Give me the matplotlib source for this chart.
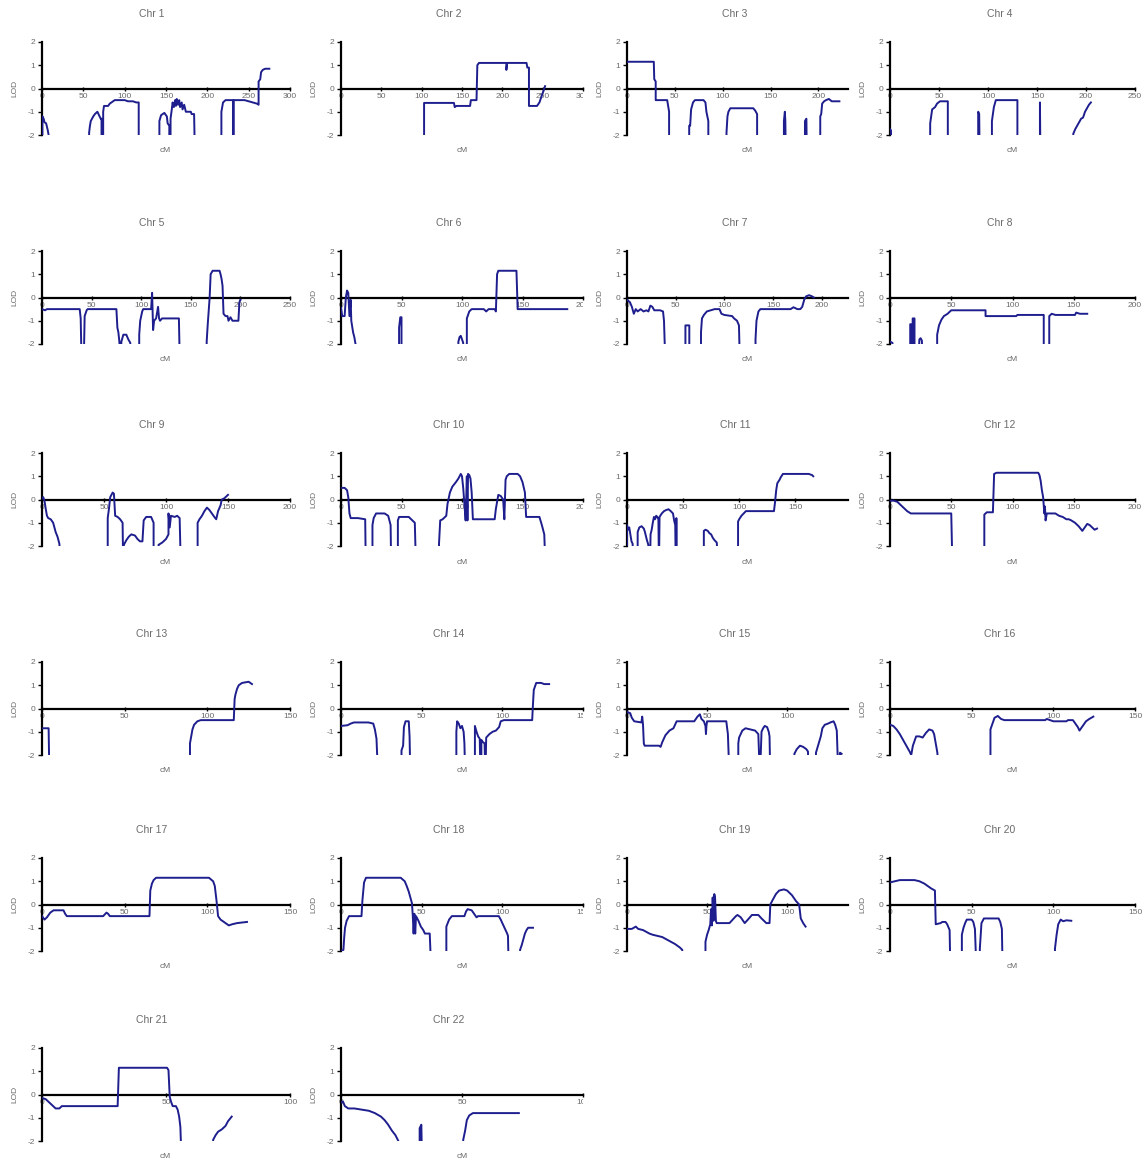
import numpy as np
import matplotlib
matplotlib.use("Agg")
import matplotlib.pyplot as plt
from matplotlib.transforms import Bbox, TransformedBbox

# LOD score profiles per chromosome, (cM, LOD); -3 means "below the -2 floor"
chr1_pts = [(0.5, -3), (0.5, -1.2), (2, -1.3), (3, -1.45), (5, -1.5), (6, -1.65), (7, -1.8), (8, -2.0), (9, -3),
            (57, -3), (57, -1.9), (58, -1.6), (59, -1.4), (62, -1.2), (64, -1.1), (67, -1.0), (69, -1.15), (71, -1.3),
            (72, -1.3), (72, -3), (74, -3), (74, -1.0), (75, -0.75), (80, -0.75), (82, -0.65), (86, -0.55), (88, -0.5),
            (100, -0.5), (104, -0.55), (110, -0.55), (114, -0.6), (117, -0.6), (117, -3),
            (142, -3), (142, -1.4), (144, -1.15), (148, -1.05), (151, -1.2), (152, -1.5), (154, -1.6), (154, -3),
            (155.5, -3), (155.5, -1.3), (157, -0.9), (158, -0.6), (159.5, -0.8), (161, -0.5), (162, -0.75), (163, -0.45),
            (164.5, -0.7), (166, -0.5), (167, -0.8), (169, -0.6), (170, -0.9), (172, -0.7), (174, -1.0), (180, -1.0),
            (181, -1.1), (184, -1.1), (185, -3),
            (217, -3), (217, -1.0), (218, -0.8), (219, -0.6), (222, -0.5), (231, -0.5), (231, -3), (232, -3), (232, -0.5),
            (245, -0.5), (250, -0.55), (255, -0.6), (260, -0.65), (262, -0.7), (262, 0.3), (264, 0.4), (265, 0.7),
            (267, 0.8), (270, 0.85), (275, 0.85)]
chr2_pts = [(103, -3), (103, -0.62), (140, -0.62), (141, -0.8), (143, -0.75), (160, -0.75), (161, -0.5), (168, -0.5),
            (169, 1.0), (171, 1.1), (205, 1.1), (205, 0.8), (206, 1.1), (230, 1.1), (231, 0.9), (233, 0.9), (233, -0.75),
            (243, -0.75), (246, -0.6), (249, -0.3), (251, -0.1), (253, 0.1)]
chr3_pts = [(0, 1.15), (28, 1.15), (28.5, 0.4), (30, 0.3), (30, -0.5), (42, -0.5), (44, -1.0), (44, -3),
            (65, -3), (65, -1.6), (66, -1.6), (67, -0.9), (69, -0.6), (71, -0.5), (80, -0.5), (82, -0.6), (83, -1.0),
            (85, -1.4), (85, -3),
            (104, -3), (104, -1.9), (105, -1.2), (106, -1.0), (108, -0.85), (132, -0.85), (134, -0.95), (136, -1.1), (136, -3),
            (164, -3), (164, -1.4), (165, -1.0), (165.5, -1.4), (166, -3),
            (186, -3), (186, -1.4), (187.5, -1.3), (188, -3),
            (202, -3), (202, -1.2), (203, -1.1), (204, -0.65), (206, -0.55), (208, -0.5), (211, -0.45), (214, -0.55),
            (222, -0.55)]
chr4_pts = [(0, -1.75), (1, -1.8), (1.5, -3),
            (41, -3), (41, -1.5), (42, -1.2), (43, -0.9), (46, -0.8), (48, -0.65), (51, -0.55), (59, -0.55), (59, -3),
            (90, -3), (90, -1.0), (91, -1.1), (91.5, -3),
            (104, -3), (104, -1.4), (105, -1.1), (106, -0.8), (108, -0.5), (130, -0.5), (130, -3),
            (153, -3), (153, -0.6), (153.5, -3),
            (187, -3), (187, -1.95), (189, -1.75), (191, -1.6), (193, -1.45), (195, -1.3), (197, -1.25), (199, -1.0),
            (201, -0.85), (203, -0.7), (205, -0.6)]
chr5_pts = [(0, -0.5), (3, -0.55), (5, -0.5), (38, -0.5), (39, -0.9), (40, -3), (42, -3), (43, -0.8), (45, -0.55),
            (46, -0.5), (75, -0.5), (76, -1.3), (77, -1.5), (78, -1.9), (79, -3), (80, -1.9), (81, -1.75), (82, -1.6),
            (85, -1.6), (87, -1.8), (89, -1.95), (90, -3),
            (98, -3), (98, -1.6), (99, -1.0), (101, -0.6), (102, -0.5), (110, -0.5), (111, 0.2), (112, -1.4), (113, -1.0),
            (115, -0.9), (117, -0.4), (118, -0.9), (119, -1.0), (121, -0.9), (138, -0.9), (139, -3),
            (166, -3), (166, -1.9), (167, -1.2), (168, -0.6), (169, 0.0), (170, 1.0), (172, 1.15), (179, 1.15), (180, 1.0),
            (181, 0.8), (182, 0.5), (183, -0.7), (185, -0.8), (187, -0.8), (188, -1.0), (190, -0.85), (192, -1.0),
            (198, -1.0), (199, -0.2), (200, -0.1)]
chr6_pts = [(0, -0.45), (1, -0.8), (3, -0.8), (4, 0.0), (5, 0.3), (6, 0.2), (7, -0.8), (8, -0.1), (8.5, -1.0),
            (10, -1.5), (11, -1.7), (12, -2.0), (12.5, -3),
            (48, -3), (48, -1.3), (49, -0.85), (50, -0.85), (50, -3),
            (97, -3), (97, -1.9), (98, -1.7), (99, -1.65), (100, -1.8), (101, -1.95), (101, -3), (104, -3), (104, -0.9),
            (106, -0.6), (108, -0.5), (118, -0.5), (120, -0.6), (122, -0.5), (127, -0.5), (128, -0.6), (129, 1.0),
            (130, 1.15), (145, 1.15), (146, -0.5), (187, -0.5)]
chr7_pts = [(0, -0.1), (3, -0.2), (5, -0.4), (7, -0.7), (9, -0.5), (11, -0.6), (14, -0.5), (17, -0.6), (20, -0.55),
            (22, -0.6), (24, -0.35), (26, -0.4), (28, -0.55), (34, -0.55), (37, -0.6), (38, -1.0), (39.5, -3),
            (60, -3), (60, -1.2), (64, -1.2), (64, -3),
            (76, -3), (76, -1.5), (77, -0.9), (79, -0.75), (82, -0.6), (86, -0.55), (90, -0.5), (95, -0.5), (97, -0.7),
            (100, -0.75), (108, -0.8), (110, -0.9), (113, -1.0), (115, -1.2), (116, -3),
            (132, -3), (132, -1.8), (133, -1.0), (135, -0.6), (137, -0.5), (168, -0.5), (171, -0.42), (175, -0.5),
            (178, -0.5), (180, -0.4), (182, -0.1), (184, 0.05), (187, 0.1), (190, 0.05), (192, 0.0)]
chr8_pts = [(0, -1.9), (2, -1.95), (2.5, -3),
            (16.5, -3), (16.5, -1.15), (17.2, -1.15), (17.2, -3), (18.5, -3), (18.5, -0.9), (20, -0.9), (20, -3),
            (23, -3), (24, -1.8), (25, -1.75), (26, -1.85), (27, -3),
            (38.5, -3), (38.5, -1.6), (40, -1.2), (42, -0.95), (44, -0.8), (47, -0.7), (50, -0.55), (78, -0.55),
            (78, -0.8), (103, -0.8), (104, -0.75), (125.5, -0.75), (125.5, -3),
            (130, -3), (130, -0.8), (132, -0.7), (135, -0.75), (151, -0.75), (152, -0.65), (155, -0.7), (161, -0.7)]
chr9_pts = [(0, 0.05), (1, 0.1), (2, -0.05), (3, -0.4), (4, -0.7), (5, -0.8), (7, -0.85), (9, -1.0), (10, -1.2),
            (11, -1.4), (12.5, -1.6), (14, -1.9), (15.5, -3),
            (53, -3), (53, -0.8), (54, -0.4), (55, 0.1), (57, 0.3), (58, 0.25), (59, -0.7), (61, -0.75), (63, -0.85),
            (65, -1.0), (65.5, -3), (66, -1.95), (67, -1.85), (68, -1.75), (70, -1.6), (72, -1.5), (75, -1.55),
            (77, -1.7), (79, -1.8), (81, -1.8), (82, -0.9), (84, -0.75), (88, -0.75), (90, -1.0), (90, -3),
            (94, -3), (94, -1.95), (97, -1.85), (100, -1.7), (102, -1.5), (102, -0.6), (103, -1.2), (104, -0.7),
            (107, -0.75), (109, -0.7), (111, -0.8), (112, -3),
            (125.5, -3), (125.5, -1.0), (127, -0.85), (129, -0.7), (131, -0.5), (133, -0.35), (135, -0.45), (137, -0.6),
            (139, -0.75), (140.5, -0.85), (142, -0.5), (144, -0.25), (145, 0.0), (147, 0.05), (149, 0.15), (150, 0.2)]
chr10_pts = [(0, 0.5), (3, 0.5), (5, 0.4), (6, 0.1), (7, -0.6), (8, -0.8), (14, -0.8), (20, -0.85), (20.5, -3),
             (26, -3), (26, -1.1), (27, -0.8), (29, -0.6), (36, -0.6), (39, -0.7), (41, -1.1), (41.5, -3),
             (47, -3), (47, -0.9), (48, -0.75), (56, -0.75), (59, -0.9), (61, -1.0), (62, -3),
             (81, -3), (81, -1.9), (82, -0.9), (84, -0.85), (87, -0.7), (88, -0.2), (90, 0.3), (92, 0.55), (95, 0.75),
             (97, 0.9), (99, 1.1), (100, 1.0), (101, 0.5), (102, -0.2), (103, -0.9), (104, 1.0), (104.5, -0.9),
             (105, 1.1), (106, 1.05), (107, 0.9), (108, 0.3), (109, -0.85), (127, -0.85), (128, -0.4), (130, 0.2),
             (132, 0.15), (134, 0.0), (135, -0.85), (136, 0.85), (137, 1.0), (139, 1.1), (146, 1.1), (148, 1.0),
             (150, 0.75), (152, 0.3), (153, -0.75), (164, -0.75), (166, -1.1), (168, -1.5), (169, -3)]
chr11_pts = [(0, -3), (0, -1.1), (1, -1.3), (2, -1.2), (3, -1.5), (4, -1.8), (5, -1.9), (6, -3),
             (9.5, -3), (9.5, -1.4), (11, -1.2), (13, -1.15), (15, -1.25), (16, -1.4), (17.5, -1.7), (19, -1.95),
             (19.5, -3), (20.5, -3), (21, -1.5), (22, -1.3), (23, -1.0), (24, -0.75), (25, -0.85), (26, -0.7),
             (27, -0.75), (28, -0.85), (28.5, -3), (29, -0.75), (31, -0.6), (33, -0.5), (35, -0.45), (37, -0.42),
             (39, -0.5), (41, -0.6), (42, -0.9), (43, -1.1), (43.5, -3), (44, -0.8), (44.5, -3),
             (68.5, -3), (68.5, -1.35), (70, -1.3), (72, -1.35), (73.5, -1.45), (75, -1.5), (76.5, -1.65), (78, -1.75),
             (80, -1.85), (81.5, -3),
             (99, -3), (99, -0.95), (100, -0.85), (102, -0.7), (104, -0.6), (106, -0.5), (131, -0.5), (132, -0.1),
             (133, 0.4), (134, 0.7), (136, 0.85), (137, 0.95), (139, 1.1), (162, 1.1), (165, 1.05), (166, 1.0)]
chr12_pts = [(0, -0.05), (3, -0.05), (6, -0.1), (8, -0.2), (10, -0.3), (12, -0.4), (14, -0.5), (17, -0.6), (50, -0.6),
             (51, -3),
             (77, -3), (77, -0.65), (79, -0.55), (84, -0.55), (85, 1.1), (87, 1.15), (121, 1.15), (122, 1.05), (123, 0.8),
             (124, 0.4), (125, 0.1), (126, -0.6), (126.5, -0.3), (127, -0.9), (128, -0.6), (135, -0.6), (138, -0.7),
             (141, -0.75), (144, -0.85), (146, -0.85), (148, -0.9), (151, -1.0), (154, -1.15), (157, -1.35),
             (159, -1.2), (161, -1.05), (163, -1.1), (165, -1.2), (167, -1.3), (169, -1.25)]
chr13_pts = [(0, -0.85), (4, -0.85), (4.5, -3),
             (89.5, -3), (89.5, -1.5), (90, -1.3), (91, -0.9), (92, -0.7), (94, -0.55), (96, -0.5), (116, -0.5),
             (116.5, 0.4), (117, 0.6), (118, 0.85), (119, 1.0), (121, 1.1), (125, 1.15), (127, 1.05)]
chr14_pts = [(0, -0.75), (4, -0.72), (6, -0.65), (8, -0.6), (17, -0.6), (20, -0.65), (21, -0.9), (22, -1.3), (23, -3),
             (37.5, -3), (37.5, -1.8), (38.5, -1.6), (39, -0.8), (40, -0.55), (42, -0.55), (42.5, -1.2), (43, -3),
             (71.5, -3), (71.5, -1.0), (72, -0.55), (73, -0.65), (74, -0.85), (75, -0.75), (76, -1.0), (76.5, -1.5),
             (77, -3),
             (83, -3), (83, -0.75), (84, -1.0), (85, -1.2), (86, -1.3), (86.5, -3), (87, -3), (87, -1.35), (88, -1.45),
             (89, -1.5), (89.5, -3), (90, -1.25), (92, -1.1), (94, -1.0), (96, -0.95), (98, -0.8), (99, -0.55),
             (101, -0.5), (118.5, -0.5), (119, 0.2), (119.5, 0.8), (121, 1.1), (124, 1.1), (126, 1.05), (129, 1.05)]
chr15_pts = [(0, -0.15), (2, -0.2), (3, -0.4), (4.5, -0.55), (9, -0.6), (9.5, -0.35), (10, -0.7), (10.5, -1.5),
             (11, -1.6), (20, -1.6), (21, -1.65), (22, -1.45), (24, -1.15), (26.5, -0.95), (29, -0.85), (30, -0.7),
             (31, -0.55), (42, -0.55), (44, -0.35), (45.5, -0.25), (46.5, -0.45), (48, -0.55), (49, -0.75), (49.3, -1.1),
             (49.6, -0.75), (50, -0.55), (62, -0.55), (63, -1.1), (64, -3),
             (69.5, -3), (69.5, -1.5), (70, -1.25), (71, -1.1), (72, -0.95), (74, -0.85), (77, -0.9), (80, -0.95),
             (82, -1.1), (83, -3), (84, -1.0), (85, -0.85), (86, -0.75), (87.5, -0.8), (88.5, -1.0), (89, -1.2),
             (89.5, -3),
             (104.5, -3), (104.5, -1.95), (106, -1.75), (108, -1.6), (110, -1.65), (112, -1.75), (113, -1.85),
             (113.5, -3),
             (118, -3), (118, -1.9), (119.5, -1.55), (121, -1.2), (122, -0.85), (123.5, -0.7), (125.5, -0.65),
             (127, -0.6), (129, -0.55), (130, -0.7), (131, -0.95), (132, -3), (133, -1.9), (134, -1.95)]
chr16_pts = [(0, -0.7), (2, -0.75), (4, -0.9), (6, -1.1), (8, -1.35), (10, -1.6), (12, -1.85), (13, -2.0), (14, -1.6),
             (15, -1.4), (16, -1.2), (18, -1.2), (20, -1.25), (22, -1.05), (24, -0.9), (26, -0.95), (27, -1.1),
             (28, -1.5), (29, -1.9), (30, -3),
             (61.5, -3), (61.5, -0.9), (62.5, -0.7), (64, -0.4), (66, -0.32), (68, -0.45), (70, -0.5), (95, -0.5),
             (96, -0.45), (98, -0.5), (100, -0.55), (108, -0.55), (109, -0.5), (112, -0.5), (113, -0.6), (115, -0.8),
             (116, -0.95), (118, -0.75), (120, -0.55), (122, -0.45), (124.5, -0.35)]
chr17_pts = [(0, -0.5), (1.5, -0.65), (3, -0.55), (5, -0.35), (7, -0.25), (13, -0.25), (14, -0.4), (15, -0.5),
             (37, -0.5), (39, -0.35), (40, -0.4), (41, -0.5), (65, -0.5), (65.5, 0.6), (66.5, 0.9), (67.5, 1.05),
             (69, 1.15), (101, 1.15), (103.5, 1.0), (104.5, 0.8), (105.5, 0.2), (106.5, -0.5), (108, -0.65),
             (110, -0.75), (112, -0.85), (113, -0.9), (115, -0.85), (118, -0.8), (124, -0.75)]
chr18_pts = [(0, -2.0), (1.5, -1.95), (2, -1.4), (2.5, -1.0), (3.5, -0.7), (5, -0.5), (12.7, -0.5), (13.3, 0.2),
             (14.3, 0.95), (15.5, 1.15), (37, 1.15), (39.5, 1.0), (40.7, 0.8), (42, 0.55), (43, 0.3), (44, 0.05),
             (44.5, -0.5), (45, -1.25), (45.5, -0.4), (46, -1.25), (46.5, -0.5), (48, -0.7), (49.5, -0.95), (51, -1.1),
             (52, -1.25), (55, -1.25), (56, -3),
             (65.3, -3), (65.3, -0.95), (67, -0.65), (68.7, -0.5), (76.5, -0.5), (77.5, -0.3), (78.5, -0.2), (81, -0.25),
             (83, -0.45), (84, -0.55), (85, -0.5), (97.8, -0.5), (99, -0.65), (101, -0.95), (103, -1.25),
             (103.5, -1.35), (104, -3),
             (111, -3), (111, -1.95), (112, -1.75), (113, -1.5), (114, -1.25), (115, -1.1), (116, -1.0), (119, -1.0)]
chr19_pts = [(0, -1.05), (3, -1.05), (5.5, -0.95), (7, -1.05), (10, -1.1), (14, -1.25), (16, -1.3), (19, -1.35),
             (22, -1.4), (26, -1.55), (30, -1.7), (33, -1.85), (34.5, -1.95), (35, -3),
             (49, -3), (49, -1.6), (50, -1.3), (51, -1.1), (52, -0.85), (52.5, -0.2), (53, -0.9), (53.5, 0.3),
             (54, -0.7), (54.5, 0.45), (55, 0.3), (55.5, -0.7), (56, -0.8), (64, -0.8), (66, -0.65), (68, -0.5),
             (69, -0.45), (71, -0.55), (73.5, -0.8), (75.5, -0.65), (78, -0.45), (82, -0.45), (84, -0.6), (87, -0.8),
             (89, -0.8), (89.5, 0.0), (91, 0.2), (93, 0.45), (95, 0.6), (98, 0.65), (100, 0.6), (103, 0.4),
             (105.5, 0.15), (107.5, 0.0), (108.5, -0.6), (110, -0.8), (111.5, -0.95)]
chr20_pts = [(0, 0.95), (3, 1.0), (6, 1.05), (15, 1.05), (18, 1.0), (21, 0.9), (23, 0.8), (25, 0.7), (27.5, 0.6),
             (28, -0.85), (31, -0.8), (32, -0.75), (34, -0.75), (35, -0.85), (36.5, -1.1), (37, -3),
             (44, -3), (44, -1.3), (45, -1.0), (46, -0.8), (47, -0.65), (50, -0.65), (51, -0.75), (52, -1.05), (53, -3),
             (55, -3), (55, -1.9), (56, -0.8), (57.5, -0.6), (66.5, -0.6), (67.5, -0.75), (68.5, -1.05), (69, -3),
             (101, -3), (101, -1.9), (102, -1.3), (103, -0.85), (104.5, -0.65), (106, -0.72), (108, -0.68), (111, -0.7)]
chr21_pts = [(0, -0.15), (1.5, -0.2), (2.5, -0.3), (4, -0.45), (5.5, -0.6), (7, -0.6), (8, -0.5), (30.5, -0.5),
             (31, 1.15), (50.4, 1.15), (51, 1.05), (51.5, -0.1), (52, -0.3), (52.7, -0.5), (54, -0.5), (54.7, -0.65),
             (55.3, -0.95), (55.8, -1.4), (56.3, -3),
             (69, -3), (69, -1.95), (70, -1.75), (71, -1.6), (72.5, -1.5), (74, -1.35), (75, -1.15), (76.5, -0.95)]
chr22_pts = [(0, -0.35), (0.8, -0.3), (1.6, -0.5), (3, -0.6), (5.5, -0.6), (8.5, -0.65), (11.5, -0.7), (14, -0.8),
             (16.5, -0.95), (18, -1.1), (19.5, -1.3), (21, -1.55), (22.5, -1.75), (23.7, -2.0), (24, -3),
             (32.5, -3), (32.5, -1.45), (33.2, -1.3), (33.5, -3),
             (50.5, -3), (50.5, -1.95), (51.3, -1.55), (52, -1.1), (53, -0.9), (54.5, -0.8), (73.5, -0.8)]

chr_names = ["Chr %d" % i for i in range(1, 23)]
chr_data = [chr1_pts, chr2_pts, chr3_pts, chr4_pts, chr5_pts, chr6_pts, chr7_pts, chr8_pts,
            chr9_pts, chr10_pts, chr11_pts, chr12_pts, chr13_pts, chr14_pts, chr15_pts, chr16_pts,
            chr17_pts, chr18_pts, chr19_pts, chr20_pts, chr21_pts, chr22_pts]
# visible end of each cM axis
x_max = [300, 300, 231, 250, 250, 200, 227, 200, 200, 200, 197, 200,
         150, 150, 138, 150, 150, 150, 138, 150, 100, 100]

# layout in pixels
W, H = 1146, 1162
col_left = [42, 341, 627, 890]
col_right = [290, 583, 848, 1135]
title_x = [152, 449, 735, 1000]
cm_x = [165, 462, 747, 1012]
row_top = [42, 251, 453, 662, 858, 1048]
row_bot = [135, 344, 546, 755, 951, 1141]

LINE = "#1e1e8e"
GREY = "#6a6a6a"

plt.rcParams["font.family"] = ["Liberation Sans", "DejaVu Sans"]
plt.rcParams["axes.unicode_minus"] = False

fig = plt.figure(figsize=(W / 100, H / 100), dpi=100)
# labels of the second column are cut off at the edge of each chart picture
clip_col2 = TransformedBbox(Bbox([[0, 0], [583 / W, 1]]), fig.transFigure)

for i, (name, pts) in enumerate(zip(chr_names, chr_data)):
    r, c = divmod(i, 4)
    x0, x1 = col_left[c], col_right[c]
    y0, y1 = row_top[r], row_bot[r]
    ax = fig.add_axes([x0 / W, 1 - y1 / H, (x1 - x0) / W, (y1 - y0) / H])
    ax.set_axisbelow(True)

    xs = [p[0] for p in pts]
    ys = [p[1] for p in pts]
    ax.plot(xs, ys, color=LINE, lw=1.4, zorder=3)

    ax.set_xlim(0, x_max[i])
    ax.set_ylim(-2, 2)
    ax.set_xticks(np.arange(0, x_max[i] + 1, 50))
    ax.set_yticks([-2, -1, 0, 1, 2])
    ax.spines["top"].set_visible(False)
    ax.spines["right"].set_visible(False)
    ax.spines["bottom"].set_position(("data", 0))
    ax.spines["bottom"].set_linewidth(1.6)
    ax.spines["left"].set_linewidth(1.6)
    ax.spines["bottom"].set_zorder(2)
    ax.tick_params(axis="x", direction="inout", length=3, width=1, pad=1.5,
                   labelsize=6, labelcolor=GREY)
    ax.tick_params(axis="y", direction="out", length=3, width=1, pad=2,
                   labelsize=6, labelcolor=GREY)
    if c == 1:
        for lab in ax.get_xticklabels():
            lab.set_clip_box(clip_col2)
            lab.set_clip_on(True)

    fig.text(title_x[c] / W, 1 - (y0 - 28) / H, name, ha="center", va="center",
             fontsize=7.5, color=GREY)
    fig.text((x0 - 27) / W, 1 - (y0 + y1) / 2 / H, "LOD", ha="center", va="center",
             rotation=90, fontsize=6, color=GREY)
    fig.text(cm_x[c] / W, 1 - (y1 + 16) / H, "cM", ha="center", va="center",
             fontsize=6, color=GREY)

fig.savefig("out.png", dpi=100, facecolor="white")
